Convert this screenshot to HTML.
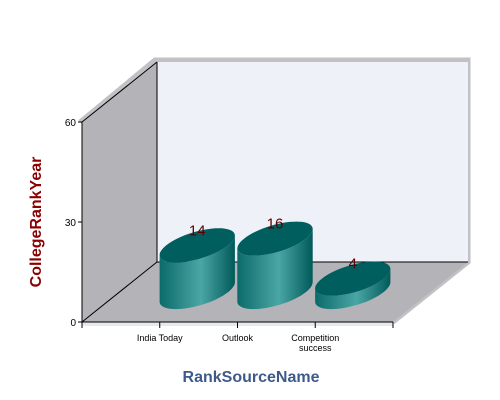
<!DOCTYPE html>
<html><head><meta charset="utf-8"><style>
body{margin:0;background:#fff}
svg{display:block;font-family:"Liberation Sans",sans-serif}
</style></head><body>
<svg id="chart" width="500" height="400" viewBox="0 0 500 400" xmlns="http://www.w3.org/2000/svg">
<defs>
<linearGradient id="side" x1="0" x2="1" y1="0" y2="0">
<stop offset="0" stop-color="#0b6b6b"/><stop offset="0.55" stop-color="#4aa6a4"/><stop offset="1" stop-color="#005a5a"/>
</linearGradient>
</defs>
<g>
<polyline points="80,122 155,60 468,60 468,262 393,322" fill="none" stroke="#c2c2c6" stroke-width="5"/>
<polygon points="82,122 157,62 157,262 82,322" fill="#b4b4b8"/>
<rect x="157" y="62" width="311" height="200" fill="#eef1f7"/>
<polygon points="82,322 157,262 468,262 393,322" fill="#b4b4b8"/>
<polygon points="82,322 393,322 393,326 82,326" fill="#e6e9f0"/>
<line x1="157" y1="62" x2="157" y2="262" stroke="#000"/>
<line x1="157" y1="262" x2="468" y2="262" stroke="#000"/>
<line x1="82" y1="322" x2="157" y2="262" stroke="#000"/>
<line x1="82" y1="122" x2="157" y2="62" stroke="#000"/>
<line x1="82" y1="122" x2="82" y2="322" stroke="#000"/>
<line x1="82" y1="322" x2="393" y2="322" stroke="#000"/>
</g>
<g id="yaxis"></g>
<g id="xaxis"></g>
<g id="bars"></g>
<text transform="translate(41,222) rotate(-90)" text-anchor="middle" font-size="16" font-weight="bold" fill="#8b0000">CollegeRankYear</text>
<text x="251" y="382" text-anchor="middle" font-size="16" font-weight="bold" fill="#3d5a8a">RankSourceName</text>
</svg>
<script>
const categories=[["India Today"],["Outlook"],["Competition","success"]];
const values=[14,16,4];
const yTicks=[0,30,60];
const NS="http://www.w3.org/2000/svg";
const X0=82,X1=393,Y0=322,YMAX=60,PH=200;
function yS(v){return Y0-v/YMAX*PH;}
function xS(i){return X0+(X1-X0)/(categories.length+1)*(i+1);}
function mk(t,a,p){const e=document.createElementNS(NS,t);for(const k in a)e.setAttribute(k,a[k]);p.appendChild(e);return e;}
const ya=document.getElementById('yaxis'),xa=document.getElementById('xaxis'),bg=document.getElementById('bars');
yTicks.forEach(v=>{
 const l=mk('line',{x1:78,x2:82,y1:yS(v),y2:yS(v),stroke:'#000'},ya);
 
 
 const t=mk('text',{x:76,y:yS(v)+4,'text-anchor':'end','font-size':10,fill:'#000'},ya);
 
 
 t.textContent=v;
});
[X0,X1].forEach(x=>{mk('line',{x1:x,x2:x,y1:322,y2:328,stroke:'#000'},xa);});
categories.forEach((c,i)=>{
 const x=xS(i);
 const l=mk('line',{x1:x,x2:x,y1:322,y2:328,stroke:'#000'},xa);
 
 
 c.forEach((s,j)=>{
  const t=mk('text',{x:x,y:341+j*10,'text-anchor':'middle','font-size':9,fill:'#000'},xa);
  
  
  t.textContent=s;
 });
});
const R=31,DX=21.4,DY=-17.1;
function pt(cx,cy,t){return [cx+R*Math.cos(t)+DX*Math.sin(t),cy+DY*Math.sin(t)];}
values.forEach((v,i)=>{
 const cx=xS(i)+37.5,cy=292,h=Y0-yS(v),ty=cy-h;
 const N=60;let pts=[];for(let k=0;k<N;k++)pts.push(pt(cx,cy,2*Math.PI*k/N));
 let iL=0,iR=0;pts.forEach((p,k)=>{if(p[0]<pts[iL][0])iL=k;if(p[0]>pts[iR][0])iR=k;});
 // lower arc: points with larger y between iL and iR
 let arc=[];for(let k=iL;;k=(k+1)%N){arc.push(pts[k]);if(k===iR)break;}
 let arc2=[];for(let k=iL;;k=(k-1+N)%N){arc2.push(pts[k]);if(k===iR)break;}
 const avg=a=>a.reduce((s,p)=>s+p[1],0)/a.length;
 const low=avg(arc)>avg(arc2)?arc:arc2;
 let d='M'+low.map(p=>p[0].toFixed(1)+','+p[1].toFixed(1)).join(' L');
 d+=' L'+low.slice().reverse().map(p=>p[0].toFixed(1)+','+(p[1]-h).toFixed(1)).join(' L')+' Z';
 const g=mk('g',{},bg);
 
 
 mk('path',{d:d,fill:'url(#side)'},g);
 const top=pts.map(p=>p[0].toFixed(1)+','+(p[1]-h).toFixed(1)).join(' ');
 mk('polygon',{points:top,fill:'#005f5e'},g);
 const t=mk('text',{x:cx,y:ty-10,'text-anchor':'middle','font-size':15,fill:'#5a0000'},g);
 
 
 t.textContent=v;
});
</script>
</body></html>
